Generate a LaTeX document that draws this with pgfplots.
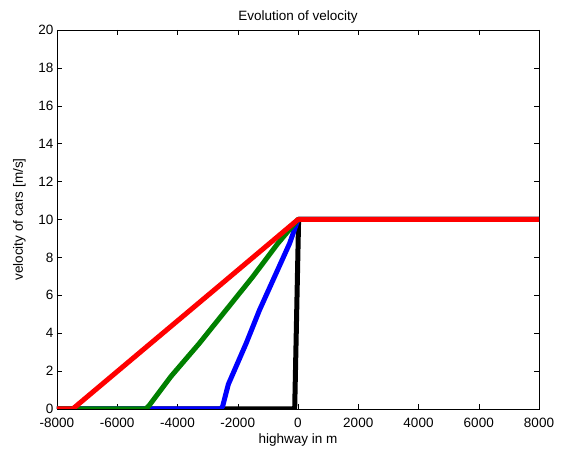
\documentclass[border=0pt]{standalone}
\usepackage{fontspec}
\setmainfont{Liberation Sans}
\usepackage{pgfplots}
\pgfplotsset{compat=1.18}
\usetikzlibrary{calc}
\begin{document}
\begin{tikzpicture}
\begin{axis}[
  scale only axis,
  width=482pt, height=379pt,
  xmin=-8000, xmax=8000, ymin=0, ymax=20,
  xtick={-8000,-6000,...,8000},
  ytick={0,2,...,20},
  scaled x ticks=false,
  /pgf/number format/assume math mode=true,
  /pgf/number format/1000 sep={},
  tick align=inside,
  major tick length=5pt,
  tick style={black, line width=0.5pt},
  axis line style={black, line width=0.5pt},
  ticklabel style={font=\fontsize{13.5}{15}\selectfont},
  label style={font=\fontsize{13.5}{15}\selectfont},
  title style={font=\fontsize{13.5}{15}\selectfont, yshift=-3pt},
  title={Evolution of velocity},
  xlabel={highway in m},
  ylabel={velocity of cars [m/s]},
  xlabel style={yshift=1pt},
  ylabel style={yshift=6pt},
  xticklabel style={yshift=-6pt},
  every axis plot/.append style={line join=round, line cap=round},
]
\addplot[black, line width=5pt, no marks] coordinates {
(-8000,0) (-110,0) (20,10) (8000,10)};
\addplot[blue, line width=5pt, no marks] coordinates {
(-8000,0) (-2560,0) (-2500,0.15) (-2313,1.3) (-1722,3.46) (-1278,5.22) (-778,6.98) (-278,8.74) (0,10) (8000,10)};
\addplot[green!50!black, line width=5pt, no marks] coordinates {
(-8000,0) (-5050,0) (-4933,0.2) (-4222,1.71) (-3278,3.46) (-2389,5.22) (-1500,6.98) (-667,8.74) (0,10) (8000,10)};
\addplot[red, line width=5pt, no marks] coordinates {
(-8000,0) (-7480,0) (-5222,3.02) (-2600,6.52) (0,10) (8000,10)};
\end{axis}
\pgfresetboundingbox
\path[use as bounding box] ($(current axis.south west)+(-57pt,-45pt)$) rectangle ($(current axis.north east)+(24pt,30pt)$);
\end{tikzpicture}
\end{document}
